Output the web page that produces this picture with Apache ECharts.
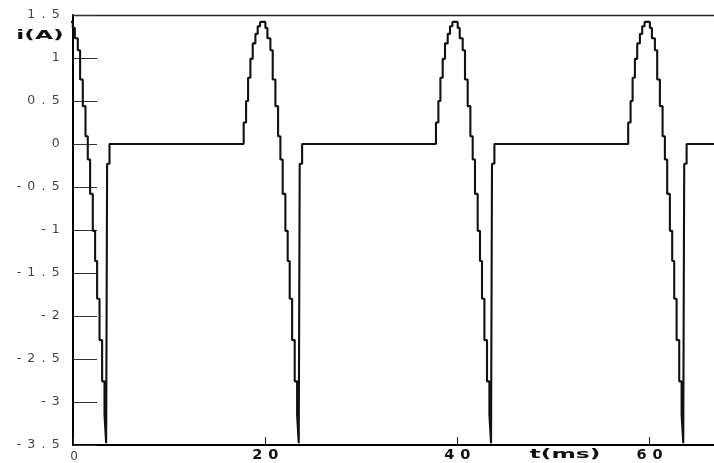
<!DOCTYPE html>
<html>
<head>
<meta charset="utf-8">
<script src="https://cdn.jsdelivr.net/npm/echarts@6/dist/echarts.min.js"></script>
<style>
  html, body { margin: 0; padding: 0; background: #fff; }
  #chart { width: 714px; height: 463px; }
</style>
</head>
<body>
<div id="chart"></div>
<script>
// Axis ranges: time in ms, current in A
const tMin = 0, tMax = 66.7;
const iMin = -3.5, iMax = 1.5;

// Tick values and their labels
const xTickValues = [0, 20, 40, 60];
const xTickLabels = ['0', '20', '40', '60'];
const yTickValues = [1.5, 1, 0.5, 0, -0.5, -1, -1.5, -2, -2.5, -3, -3.5];
const yTickLabels = ['1.5', '1', '0.5', '0', '-0.5', '-1', '-1.5', '-2', '-2.5', '-3', '-3.5'];

// Peak instant of each current pulse (ms)
const pulsePeaks = [-0.33, 19.71, 39.72, 59.72];

// Sample instants within one pulse, relative to its peak (ms)
const pulseOffsets = [
  -1.95, -1.70, -1.49, -1.25, -1.01, -0.73, -0.49, -0.24,
   0.31,  0.52,  0.83,  1.07,  1.35,  1.63,  1.87,  2.11,
   2.39,  2.63,  2.84,  3.09,  3.36,  3.61,  3.78,  3.88, 4.13
];
// Current held from each sample instant (A)
const pulseCurrents = [
   0.25,  0.50,  0.77,  0.99,  1.17,  1.28,  1.37,  1.42,
   1.35,  1.23,  1.09,  0.75,  0.44,  0.09, -0.18, -0.58,
  -1.01, -1.36, -1.80, -2.28, -2.76, -3.15, -3.48, -0.23, 0
];

// Assemble the sampled waveform: every pulse, then the zero tail
const waveform = [];
pulsePeaks.forEach(function (peak) {
  pulseOffsets.forEach(function (off, k) {
    waveform.push([peak + off, pulseCurrents[k]]);
  });
});
waveform.push([tMax + 1, 0]);

// Wide lettering: each character sits in its own fixed-width cell
function cells(text, styleName) {
  return text.split('').map(function (ch) {
    return '{' + styleName + '|' + ch + '}';
  }).join('');
}
function labelFor(values, labels, v) {
  const k = values.findIndex(function (t) { return Math.abs(t - v) < 1e-9; });
  return k < 0 ? '' : labels[k];
}

const chart = echarts.init(document.getElementById('chart'), null, { renderer: 'canvas' });

chart.setOption({
  animation: false,
  backgroundColor: '#ffffff',
  grid: { left: 73, right: 0, top: 15, bottom: 16, containLabel: false },
  xAxis: [{
    type: 'value',
    min: tMin,
    max: tMax,
    interval: 20,
    position: 'bottom',
    axisLine: { show: true, onZero: false, lineStyle: { color: '#000', width: 2 } },
    axisTick: { show: true, inside: true, length: 8, customValues: xTickValues, lineStyle: { color: '#222', width: 1 } },
    axisLabel: {
      show: true,
      customValues: xTickValues,
      margin: 2,
      formatter: function (v) {
        const s = labelFor(xTickValues, xTickLabels, v);
        return v === 0 ? '{t|' + s + '}' : cells(s, 'b');
      },
      rich: {
        t: { width: 12, height: 16, align: 'center', fontSize: 12, fontFamily: 'DejaVu Sans', color: '#444', padding: [2, 0, 0, 2] },
        b: { width: 16, height: 16, align: 'center', fontSize: 14.5, fontWeight: 'bold', fontFamily: 'DejaVu Sans', color: '#111' }
      }
    },
    splitLine: { show: false }
  }, {
    type: 'value',
    min: tMin,
    max: tMax,
    position: 'top',
    axisLine: { show: true, onZero: false, lineStyle: { color: '#222', width: 1.3 } },
    axisTick: { show: false },
    axisLabel: { show: false },
    splitLine: { show: false }
  }],
  yAxis: {
    type: 'value',
    min: iMin,
    max: iMax,
    interval: 0.5,
    axisLine: { show: true, onZero: false, lineStyle: { color: '#000', width: 2 } },
    axisTick: { show: true, inside: true, length: 24, lineStyle: { color: '#333', width: 1 } },
    axisLabel: {
      show: true,
      margin: 11,
      formatter: function (v) {
        return cells(labelFor(yTickValues, yTickLabels, v), 'c');
      },
      rich: {
        c: { width: 12.3, align: 'center', fontSize: 12.5, fontFamily: 'DejaVu Sans', color: '#444' }
      }
    },
    splitLine: { show: false }
  },
  series: [{
    type: 'line',
    xAxisIndex: 0,
    yAxisIndex: 0,
    step: 'end',
    showSymbol: false,
    symbol: 'none',
    clip: true,
    lineStyle: { color: '#111', width: 2.1 },
    data: waveform
  }],
  graphic: {
    elements: [
      {
        type: 'text', x: 565, y: 455, scaleX: 1.8, silent: true, z: 100,
        style: { text: 't(ms)', fill: '#111', fontSize: 13, fontWeight: 'bold', fontFamily: 'DejaVu Sans', align: 'center', verticalAlign: 'middle' }
      },
      {
        type: 'text', x: 40, y: 36, scaleX: 1.8, silent: true, z: 100,
        style: { text: 'i(A)', fill: '#111', fontSize: 13, fontWeight: 'bold', fontFamily: 'DejaVu Sans', align: 'center', verticalAlign: 'middle' }
      }
    ]
  }
});
</script>
</body>
</html>
